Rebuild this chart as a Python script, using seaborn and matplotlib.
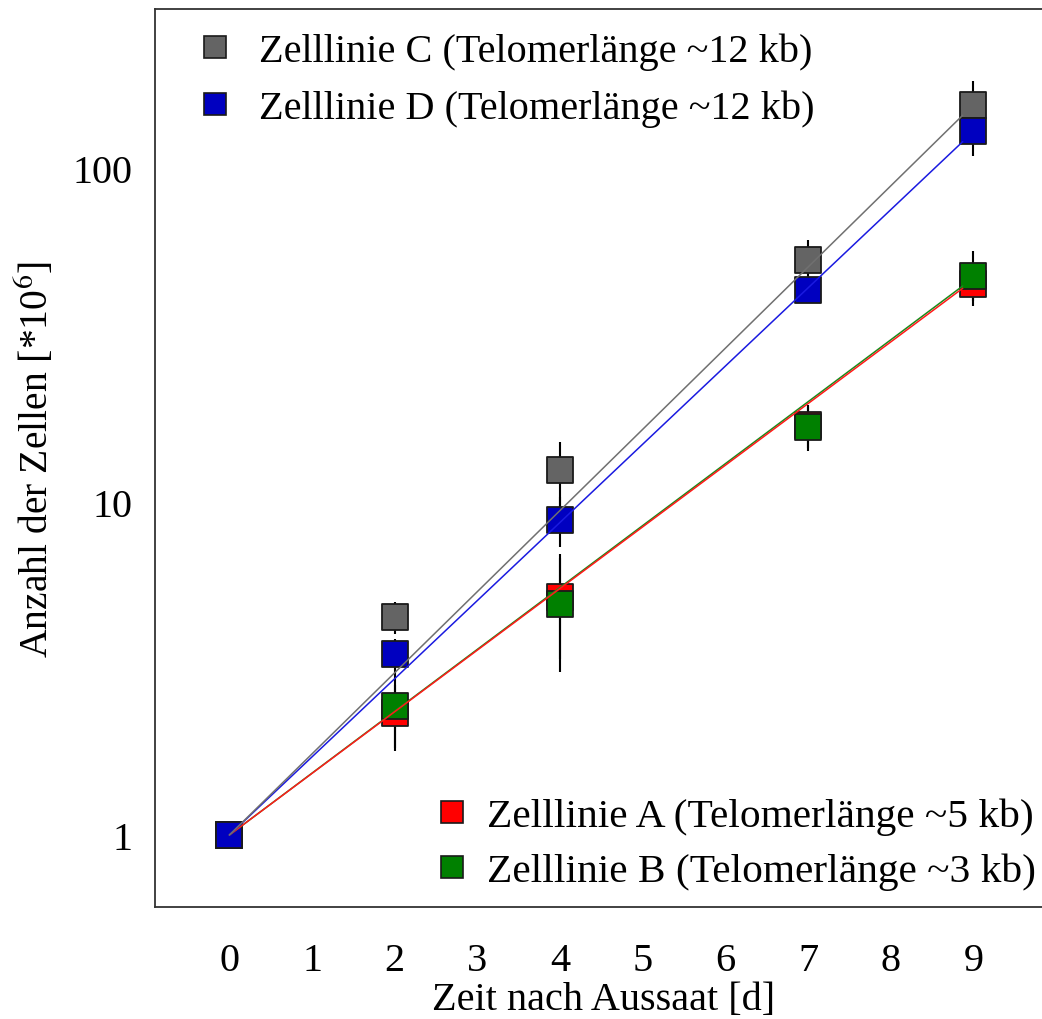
import matplotlib
matplotlib.use("Agg")
import matplotlib.pyplot as plt
from matplotlib.lines import Line2D
import pandas as pd
import seaborn as sns

sns.set_theme(style="white")
plt.rcParams["font.family"] = ["Liberation Serif", "DejaVu Serif"]
plt.rcParams["mathtext.fontset"] = "stix"
plt.rcParams["text.color"] = "black"
plt.rcParams["axes.labelcolor"] = "black"

# Messzeitpunkte (Tage nach Aussaat)
days = [0, 2, 4, 7, 9]

# Zellzahlen [*10^6] und Standardabweichungen je Zelllinie
cells_A = [1.0, 2.32, 5.17, 17.0, 45.0]
err_A = [0.0, 0.5, 1.8, 2.5, 5.0]
cells_B = [1.0, 2.43, 4.93, 16.7, 47.5]
err_B = [0.0, 0.65, 1.85, 2.5, 9.0]
cells_C = [1.0, 4.5, 12.4, 53.0, 155.0]
err_C = [0.0, 0.5, 2.7, 7.8, 27.0]
cells_D = [1.0, 3.48, 8.8, 43.0, 129.0]
err_D = [0.05, 0.4, 1.5, 3.0, 20.0]

# Exponentielle Anpassung: Anfangs- und Endpunkt der Regressionsgeraden
fit_days = [0.0, 8.87]
fit_A = [1.0, 43.6]
fit_B = [1.0, 44.3]
fit_C = [1.0, 144.0]
fit_D = [1.0, 120.0]

labels = {
    "A": "Zelllinie A (Telomerlänge ~5 kb)",
    "B": "Zelllinie B (Telomerlänge ~3 kb)",
    "C": "Zelllinie C (Telomerlänge ~12 kb)",
    "D": "Zelllinie D (Telomerlänge ~12 kb)",
}
colors = {"A": "#ff0000", "B": "#008000", "C": "#646464", "D": "#0000c0"}
line_colors = {"A": "#ff1a1a", "B": "#1a8a1a", "C": "#707070", "D": "#1a1ae0"}

series = {
    "A": (cells_A, err_A, fit_A),
    "B": (cells_B, err_B, fit_B),
    "C": (cells_C, err_C, fit_C),
    "D": (cells_D, err_D, fit_D),
}
order = ["A", "B", "C", "D"]

fig = plt.figure(figsize=(10.42, 10.20), dpi=100)
ax = fig.add_axes([155 / 1042, 1 - 908 / 1020, 1 - 155 / 1042 + 0.01, (908 - 10) / 1020])

# Fehlerbalken (unterste Ebene)
for key in order:
    vals, errs, _ = series[key]
    ax.errorbar(days, vals, yerr=errs, fmt="none", ecolor="black",
                elinewidth=1.5, capsize=0, zorder=1)

# Messwerte als Quadrate
for key in order:
    vals, _, _ = series[key]
    df = pd.DataFrame({"Tag": days, "Zellen": vals})
    sns.scatterplot(data=df, x="Tag", y="Zellen", ax=ax, marker="s", s=330,
                    color=colors[key], edgecolor="#1a1a1a", linewidth=1.3,
                    zorder=3, legend=False)

# Regressionsgeraden über den Messwerten
for key in ["B", "A", "D", "C"]:
    _, _, fit = series[key]
    dfl = pd.DataFrame({"Tag": fit_days, "Zellen": fit})
    sns.lineplot(data=dfl, x="Tag", y="Zellen", ax=ax, color=line_colors[key],
                 linewidth=1.1, zorder=4, legend=False)

ax.set_yscale("log")
ax.set_xlim(-0.9, 9.955)
ax.set_ylim(10 ** -0.216, 10 ** 2.477)
ax.set_xticks(range(10))
ax.set_xticklabels([str(i) for i in range(10)])
ax.set_yticks([1, 10, 100])
ax.set_yticklabels(["1", "10", "100"])
ax.yaxis.set_minor_locator(matplotlib.ticker.NullLocator())

for side in ["left", "top", "bottom"]:
    ax.spines[side].set_visible(True)
    ax.spines[side].set_color("#333333")
    ax.spines[side].set_linewidth(1.3)
ax.spines["right"].set_visible(False)

ax.tick_params(axis="both", which="major", direction="out", color="#333333",
               width=1.3, labelsize=29, labelcolor="black")
ax.tick_params(axis="x", length=15, pad=10)
ax.tick_params(axis="y", length=13, pad=3)

ax.set_xlabel("Zeit nach Aussaat [d]", fontsize=29, labelpad=2)
ax.set_ylabel("Anzahl der Zellen [*10$^{6}$]", fontsize=28.5, labelpad=11)


def handle(key):
    return Line2D([], [], linestyle="none", marker="s", markersize=16,
                  markerfacecolor=colors[key], markeredgecolor="#1a1a1a",
                  markeredgewidth=1.2)


leg1 = ax.legend([handle("C"), handle("D")], [labels["C"], labels["D"]],
                 loc="upper left", bbox_to_anchor=(0.033, 0.992), frameon=False,
                 fontsize=29, handlelength=0.7, handletextpad=0.75,
                 labelspacing=0.5, borderaxespad=0)
ax.add_artist(leg1)
ax.legend([handle("A"), handle("B")], [labels["A"], labels["B"]],
          loc="lower right", bbox_to_anchor=(1.0, 0.0), frameon=False,
          fontsize=29.8, handlelength=0.7, handletextpad=0.5,
          labelspacing=0.42, borderaxespad=0)

fig.savefig("out.png", dpi=100, facecolor="white")
